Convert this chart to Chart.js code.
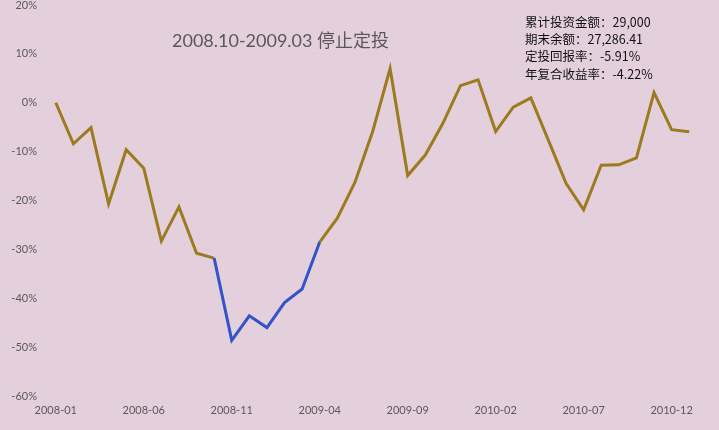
<!DOCTYPE html>
<html>
<head>
<meta charset="utf-8">
<script src="https://cdn.jsdelivr.net/npm/chart.js@4.4.1/dist/chart.umd.min.js"></script>
<style>
  html, body { margin: 0; padding: 0; background: #e4d0dc; }
  #wrap { width: 719px; height: 430px; position: relative; }
</style>
</head>
<body>
<div id="wrap"><canvas id="myChart"></canvas></div>
<script>
// months (2008-01 .. 2011-01)
var months = ['2008-01','2008-02','2008-03','2008-04','2008-05','2008-06','2008-07','2008-08','2008-09','2008-10','2008-11','2008-12',
              '2009-01','2009-02','2009-03','2009-04','2009-05','2009-06','2009-07','2009-08','2009-09','2009-10','2009-11','2009-12',
              '2010-01','2010-02','2010-03','2010-04','2010-05','2010-06','2010-07','2010-08','2010-09','2010-10','2010-11','2010-12',
              '2011-01'];
// 定投收益率 (%)
var returns = [0, -8.4, -5.1, -20.7, -9.6, -13.4, -28.3, -21.3, -30.8, -31.8, -48.6, -43.6,
               -46.0, -40.9, -38.1, -28.5, -23.6, -16.3, -6.0, 7.0, -14.9, -10.7, -4.2, 3.5,
               4.7, -5.9, -0.9, 1.0, -7.7, -16.5, -21.9, -12.8, -12.7, -11.3, 2.1, -5.5,
               -5.91];
// stop period 2008.10 - 2009.03 (drawn blue)
var stopFrom = 9;
var stopTo = 15;
var yTicks = [20, 10, 0, -10, -20, -30, -40, -50, -60];
var chartTitle = '2008.10-2009.03 停止定投';
var notes = ['累计投资金额：29,000', '期末余额：27,286.41', '定投回报率：-5.91%', '年复合收益率：-4.22%'];

var gold = '#9c7a1f';
var blue = '#3553c9';

var textPlugin = {
  id: 'texts',
  afterDraw: function (chart) {
    var ctx = chart.ctx;
    var area = chart.chartArea;
    ctx.save();
    ctx.fillStyle = '#595959';
    ctx.font = '18px Lato, "Noto Sans CJK SC"';
    ctx.textBaseline = 'middle';
    ctx.textAlign = 'left';
    ctx.fillText(chartTitle, area.left + 125, 41);
    ctx.fillStyle = '#111';
    ctx.font = '12.5px "Noto Sans CJK SC"';
    for (var i = 0; i < notes.length; i++) {
      ctx.fillText(notes[i], area.left + 478, 22 + i * 17.3);
    }
    ctx.restore();
  }
};

const ctx = document.getElementById('myChart').getContext('2d');
const myChart = new Chart(ctx, {
  type: 'line',
  data: {
    labels: months,
    datasets: [{
      data: returns,
      borderColor: gold,
      borderWidth: 3,
      pointRadius: 0,
      tension: 0,
      fill: false,
      segment: {
        borderColor: function (c) {
          return (c.p0DataIndex >= stopFrom && c.p1DataIndex <= stopTo) ? blue : gold;
        }
      }
    }]
  },
  options: {
    responsive: true,
    maintainAspectRatio: false,
    animation: false,
    layout: { padding: { top: 0, right: 21, left: 0, bottom: 0 } },
    plugins: { legend: { display: false }, tooltip: { enabled: false } },
    scales: {
      x: {
        offset: true,
        grid: { display: false, drawTicks: false },
        border: { display: false },
        ticks: {
          autoSkip: false,
          maxRotation: 0,
          padding: 8,
          color: '#595959',
          font: { family: 'Lato', size: 11 },
          callback: function (v, i) { return i % 5 === 0 ? months[i] : ''; }
        },
        afterFit: function (s) { s.height = 34; }
      },
      y: {
        min: -60,
        max: 20,
        afterBuildTicks: function (s) { s.ticks = yTicks.map(function (v) { return { value: v }; }); },
        grid: { color: 'rgba(236,190,208,0.3)', drawTicks: false },
        border: { display: false },
        ticks: {
          padding: 10,
          color: '#595959',
          font: { family: 'Lato', size: 11 },
          callback: function (v) { return v + '%'; }
        },
        afterFit: function (s) { s.width = 47; s.paddingTop = 5; s.paddingBottom = 5; }
      }
    }
  },
  plugins: [textPlugin]
});
</script>
</body>
</html>
